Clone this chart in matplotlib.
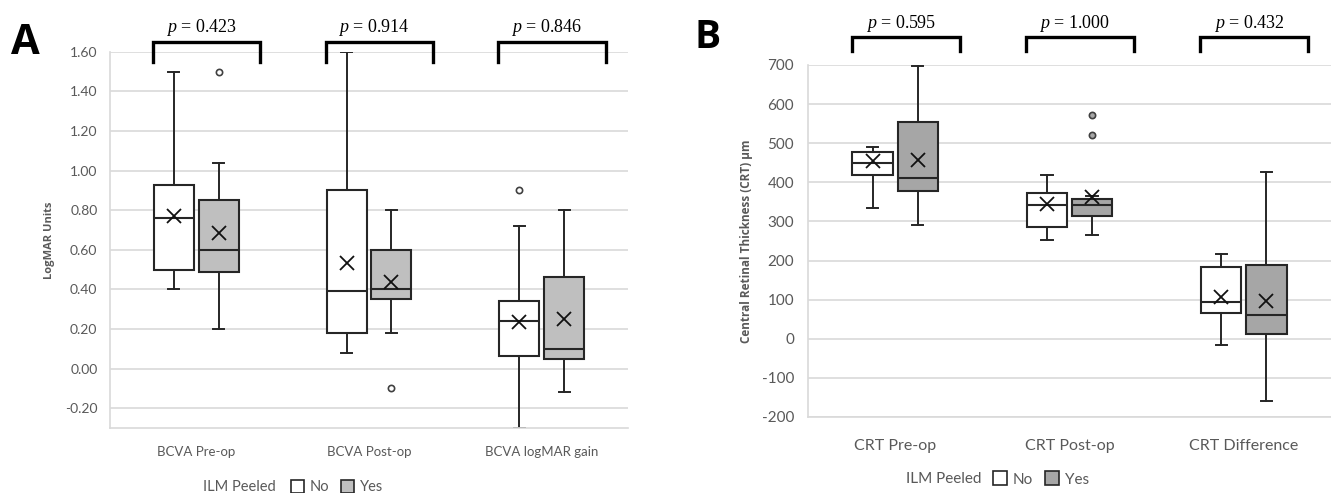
import matplotlib.pyplot as plt
from matplotlib import transforms
from matplotlib.patches import Patch

plt.rcParams["font.family"] = ["Lato", "DejaVu Sans"]
plt.rcParams["mathtext.fontset"] = "custom"
plt.rcParams["mathtext.it"] = "Liberation Serif:italic"
plt.rcParams["mathtext.rm"] = "Liberation Serif"

# panel A - visual acuity (logMAR)
a_groups = ["BCVA Pre-op", "BCVA Post-op", "BCVA logMAR gain"]
a_pvals = ["0.423", "0.914", "0.846"]
a_no_lo = [0.40, 0.08, -0.30]
a_no_q1 = [0.50, 0.18, 0.065]
a_no_med = [0.76, 0.39, 0.24]
a_no_q3 = [0.925, 0.90, 0.34]
a_no_hi = [1.50, 1.60, 0.72]
a_no_mean = [0.77, 0.535, 0.235]
a_no_out = [[], [], [0.90]]
a_yes_lo = [0.20, 0.18, -0.12]
a_yes_q1 = [0.49, 0.35, 0.05]
a_yes_med = [0.60, 0.40, 0.10]
a_yes_q3 = [0.85, 0.60, 0.46]
a_yes_hi = [1.04, 0.80, 0.80]
a_yes_mean = [0.685, 0.435, 0.25]
a_yes_out = [[1.50], [-0.10], []]
a_ticks = [-0.20, 0.00, 0.20, 0.40, 0.60, 0.80, 1.00, 1.20, 1.40, 1.60]

# panel B - central retinal thickness
b_groups = ["CRT Pre-op", "CRT Post-op", "CRT Difference"]
b_pvals = ["0.595", "1.000", "0.432"]
b_no_lo = [335, 252, -15]
b_no_q1 = [418, 285, 66]
b_no_med = [450, 342, 94]
b_no_q3 = [478, 372, 183]
b_no_hi = [490, 420, 216]
b_no_mean = [455, 345, 108]
b_no_out = [[], [], []]
b_yes_lo = [292, 265, -160]
b_yes_q1 = [378, 315, 12]
b_yes_med = [410, 342, 62]
b_yes_q3 = [553, 358, 188]
b_yes_hi = [698, 365, 426]
b_yes_mean = [458, 362, 96]
b_yes_out = [[], [572, 521], []]
b_ticks = [-200, -100, 0, 100, 200, 300, 400, 500, 600, 700]

W, H = 1331, 493
INK = "#262626"
GREY_TXT = "#595959"
GRID = "#d9d9d9"


def make_stats(lo, q1, med, q3, hi, mean, out):
    return [dict(whislo=a, q1=b, med=c, q3=d, whishi=e, mean=f, fliers=g)
            for a, b, c, d, e, f, g in zip(lo, q1, med, q3, hi, mean, out)]


def draw_panel(ax, groups, no_stats, yes_stats, yes_color, flier_fill):
    pos = list(range(len(groups)))
    for stats, dx, color in ((no_stats, -0.13, "white"), (yes_stats, 0.13, yes_color)):
        ax.bxp(stats, positions=[p + dx for p in pos], widths=0.232,
               showmeans=True, patch_artist=True, manage_ticks=False,
               capwidths=0.065,
               boxprops=dict(facecolor=color, edgecolor=INK, linewidth=1.5),
               medianprops=dict(color=INK, linewidth=1.5),
               whiskerprops=dict(color=INK, linewidth=1.4),
               capprops=dict(color=INK, linewidth=1.4),
               meanprops=dict(marker="x", markeredgecolor="#111111",
                              markersize=10, markeredgewidth=1.3),
               flierprops=dict(marker="o", markerfacecolor=flier_fill,
                               markeredgecolor="#404040", markersize=4.5,
                               markeredgewidth=1.2))
    ax.set_xlim(-0.5, len(groups) - 0.5)
    ax.set_xticks(pos, groups)
    ax.grid(axis="y", color=GRID, linewidth=1.2)
    ax.set_axisbelow(True)
    for s in ("top", "right"):
        ax.spines[s].set_visible(False)
    for s in ("left", "bottom"):
        ax.spines[s].set_color(GRID)
        ax.spines[s].set_linewidth(1.2)
    ax.tick_params(length=0, colors=GREY_TXT)


def brackets(ax, pvals, y_top, y_low, y_txt):
    trans = transforms.blended_transform_factory(ax.transData, fig.transFigure)
    for i, p in enumerate(pvals):
        x0, x1 = i - 0.25, i + 0.37
        ax.plot([x0, x0, x1, x1], [1 - y_low / H, 1 - y_top / H, 1 - y_top / H, 1 - y_low / H],
                transform=trans, clip_on=False, color="black", linewidth=2.4,
                solid_joinstyle="miter")
        ax.text((x0 + x1) / 2 - 0.03, 1 - y_txt / H, r"$p$ = " + p, transform=trans,
                ha="center", va="center", fontsize=13, family="Liberation Serif")


fig = plt.figure(figsize=(W / 100, H / 100), dpi=100)

axA = fig.add_axes([110 / W, 1 - 428 / H, 518 / W, (428 - 51.7) / H])
draw_panel(axA, a_groups,
           make_stats(a_no_lo, a_no_q1, a_no_med, a_no_q3, a_no_hi, a_no_mean, a_no_out),
           make_stats(a_yes_lo, a_yes_q1, a_yes_med, a_yes_q3, a_yes_hi, a_yes_mean, a_yes_out),
           "#bfbfbf", "white")
axA.set_ylim(-0.30, 1.60)
axA.set_yticks(a_ticks, [f"{t:.2f}" for t in a_ticks])
axA.tick_params(axis="y", labelsize=10, pad=9)
axA.tick_params(axis="x", labelsize=9.5, pad=13)
axA.set_ylabel("LogMAR Units", fontsize=8, fontweight="bold", family="Open Sans",
               color=GREY_TXT, labelpad=7)
brackets(axA, a_pvals, 42, 62, 27)

axB = fig.add_axes([808 / W, 1 - 417 / H, 523 / W, (417 - 65) / H])
draw_panel(axB, b_groups,
           make_stats(b_no_lo, b_no_q1, b_no_med, b_no_q3, b_no_hi, b_no_mean, b_no_out),
           make_stats(b_yes_lo, b_yes_q1, b_yes_med, b_yes_q3, b_yes_hi, b_yes_mean, b_yes_out),
           "#a6a6a6", "#a6a6a6")
axB.set_ylim(-200, 700)
axB.set_yticks(b_ticks, [str(t) for t in b_ticks])
axB.tick_params(axis="y", labelsize=11, pad=10)
axB.tick_params(axis="x", labelsize=11.5, pad=16)
axB.set_ylabel("Central Retinal Thickness (CRT) µm", fontsize=8.5, fontweight="bold",
               family="Open Sans", color=GREY_TXT, labelpad=6)
brackets(axB, b_pvals, 36.7, 51, 23)

# panel letters
fig.text(25 / W, 1 - 44 / H, "A", fontsize=30, fontweight="bold", family="Open Sans",
         ha="center", va="center")
fig.text(708 / W, 1 - 38 / H, "B", fontsize=28, fontweight="bold", family="Open Sans",
         ha="center", va="center")

# legends
for x_txt, y_leg, yes_color, size, gap in ((203, 487, "#bfbfbf", 10.5, 88), (906, 479, "#a6a6a6", 11, 87)):
    fig.text(x_txt / W, 1 - y_leg / H, "ILM Peeled", fontsize=size, color=GREY_TXT,
             ha="left", va="center")
    handles = [Patch(facecolor="white", edgecolor=INK, linewidth=1.2, label="No"),
               Patch(facecolor=yes_color, edgecolor=INK, linewidth=1.2, label="Yes")]
    leg = fig.legend(handles=handles, ncol=2, frameon=False, fontsize=size,
                     loc="center left", bbox_to_anchor=((x_txt + gap) / W, 1 - y_leg / H),
                     handlelength=0.9, handleheight=1.0, handletextpad=0.4,
                     columnspacing=0.8, borderaxespad=0, borderpad=0)
    for t in leg.get_texts():
        t.set_color(GREY_TXT)

fig.savefig("out.png", dpi=100)
